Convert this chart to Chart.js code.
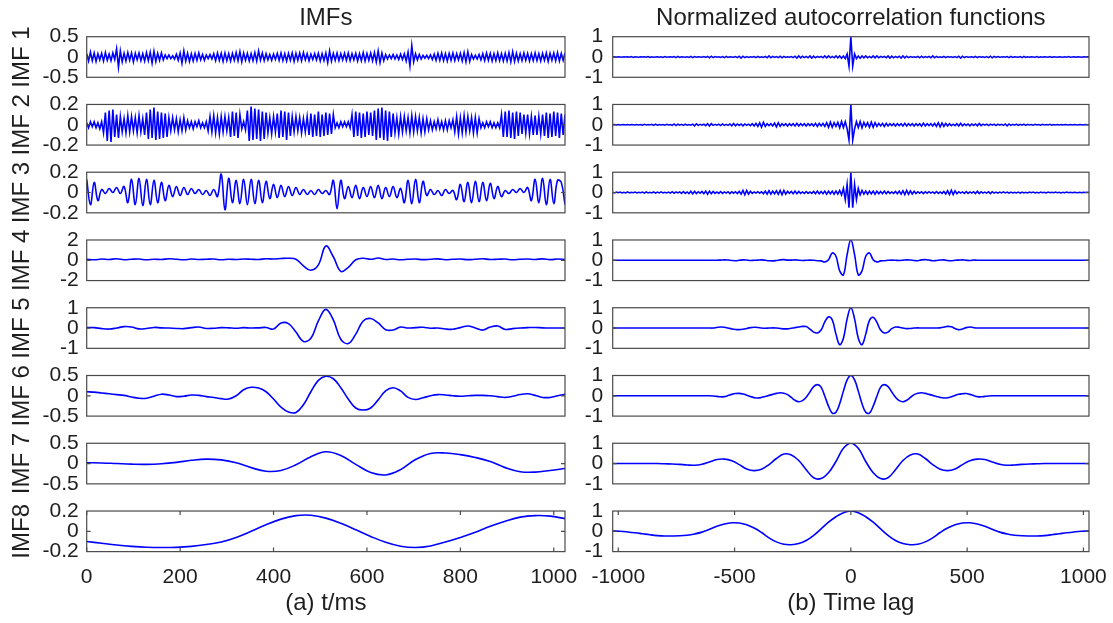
<!DOCTYPE html>
<html><head><meta charset="utf-8">
<script src="https://cdn.jsdelivr.net/npm/chart.js@4/dist/chart.umd.min.js"></script>
<style>
html,body{margin:0;padding:0;background:#fff;}
#wrap{position:relative;width:1113px;height:623px;overflow:hidden;background:#fff;}
#wrap canvas{position:absolute;}
</style>
</head><body><div id="wrap"></div>
<script>
// ---------- data ----------
const leftXTicks = [0, 200, 400, 600, 800, 1000];
const rightXTicks = [-1000, -500, 0, 500, 1000];
const tRange = [0, 1024];
const lagRange = [-1024, 1024];
const imfLabels = ['IMF 1', 'IMF 2', 'IMF 3', 'IMF 4', 'IMF 5', 'IMF 6', 'IMF 7', 'IMF8'];
const imfYLimits = [0.5, 0.2, 0.2, 2, 1, 0.5, 0.5, 0.2];
const acfYLimits = [1, 1, 1, 1, 1, 1, 1, 1];
const columnTitles = ['IMFs', 'Normalized autocorrelation functions'];
const axisTitles = ['(a) t/ms', '(b) Time lag'];

const imf1 = [
.08,-.1,.12,-.09,.1,-.11,.08,-.07,.09,-.1,.11,-.08,.07,-.09,.1,-.06,
.2,-.25,.15,-.12,.09,-.1,.11,-.08,.1,-.12,.09,-.07,.1,-.09,.08,-.1,
.11,-.09,.12,-.15,.14,-.11,.09,-.08,.1,-.07,.05,-.04,.05,-.04,.03,-.05,
.07,-.08,.1,-.15,.15,-.1,.09,-.11,.08,-.1,.09,-.08,.1,-.07,.06,-.08,
.05,-.04,.06,-.05,.08,-.09,.1,-.08,.09,-.11,.1,-.09,.08,-.1,.09,-.08,
.11,-.09,.13,-.12,.1,-.08,.09,-.1,.08,-.09,.11,-.1,.15,-.08,.1,-.09,
.08,-.07,.06,-.08,.07,-.06,.09,-.08,.1,-.09,.08,-.1,.09,-.08,.1,-.11,
.09,-.08,.1,-.09,.11,-.07,.08,-.09,.07,-.06,.08,-.07,.09,-.1,.08,-.09,
.1,-.14,.15,-.1,.09,-.08,.1,-.09,.08,-.07,.09,-.08,.1,-.09,.08,-.07,
.09,-.1,.08,-.09,.11,-.1,.09,-.08,.1,-.09,.11,-.12,.15,-.14,.1,-.09,
.06,-.05,.05,-.04,.06,-.05,.05,-.06,.07,-.06,.08,-.1,.12,-.22,.28,-.12,
.08,-.07,.06,-.05,.04,-.03,.04,-.04,.05,-.06,.07,-.08,.09,-.08,.1,-.09,
.08,-.1,.09,-.08,.1,-.09,.08,-.07,.09,-.1,.11,-.12,.13,-.11,.06,-.05,
.04,-.05,.06,-.07,.08,-.09,.1,-.08,.09,-.1,.08,-.09,.1,-.09,.08,-.1,
.09,-.1,.11,-.12,.13,-.11,.09,-.1,.08,-.09,.1,-.08,.09,-.1,.08,-.09,
.1,-.09,.08,-.1,.09,-.08,.1,-.11,.09,-.08,.1,-.09,.11,-.1,.09,-.08,
.1];

const imf2 = [
.02,-.03,.03,-.02,.03,-.03,.02,-.04,.03,-.08,.12,-.16,.14,-.17,.15,-.12,
.1,-.13,.08,-.07,.06,-.08,.09,-.07,.08,-.06,.07,-.08,.09,-.07,.06,-.1,
.12,-.14,.15,-.13,.17,-.15,.13,-.14,.12,-.13,.11,-.12,.07,-.06,.07,-.05,
.06,-.07,.05,-.06,.07,-.05,.04,-.03,.03,-.04,.03,-.02,.04,-.03,.02,-.03,
.03,-.06,.08,-.07,.09,-.08,.07,-.09,.08,-.07,.08,-.06,.07,-.12,.13,-.11,
.12,-.13,.1,-.04,.03,-.05,.14,-.16,.18,-.15,.16,-.14,.15,-.16,.13,-.14,
.12,-.08,.07,-.09,.08,-.07,.11,-.13,.14,-.12,.13,-.15,.12,-.11,.08,-.07,
.08,-.06,.07,-.08,.06,-.07,.08,-.1,.11,-.12,.1,-.11,.13,-.12,.1,-.11,
.12,-.1,.11,-.09,.1,-.03,.02,-.03,.03,-.02,.03,-.02,.03,-.03,.1,-.12,
.13,-.11,.12,-.13,.11,-.12,.13,-.1,.12,-.11,.14,-.15,.16,-.13,.17,-.15,
.14,-.16,.13,-.12,.11,-.08,.07,-.09,.08,-.07,.08,-.06,.07,-.08,.09,-.07,
.08,-.06,.07,-.08,.06,-.07,.06,-.05,.04,-.05,.03,-.04,.05,-.04,.03,-.05,
.04,-.05,.04,-.03,.05,-.07,.08,-.09,.07,-.08,.09,-.07,.08,-.06,.07,-.08,
.07,-.08,.06,-.03,.02,-.03,.03,-.02,.03,-.03,.02,-.03,.02,-.03,.1,-.12,
.13,-.12,.14,-.13,.12,-.14,.13,-.11,.12,-.09,.1,-.08,.1,-.09,.08,-.1,
.09,-.1,.08,-.09,.1,-.11,.12,-.13,.11,-.12,.13,-.11,.12,-.13,.11,-.1,
.1];

const imf3 = [
.13,-.12,.1,-.08,
.03,-.01,.04,0,.05,-.01,.06,
-.1,.13,-.12,.14,-.13,.13,-.12,.12,-.1,.1,-.08,
.07,-.04,.06,-.03,.05,-.02,.04,
-.01,.03,-.02,.02,-.03,.03,-.04,
.18,-.17,.14,-.1,.12,-.11,.13,-.12,.13,-.11,.12,-.1,.11,
-.06,.08,-.05,.07,-.04,.06,-.03,.05,
-.02,.03,-.02,.02,-.02,.03,-.01,.02,-.02,
.12,-.16,.12,-.06,
.06,-.05,.07,-.06,.05,-.04,.06,-.05,.07,-.06,.05,-.04,.06,-.05,.04,
-.1,.12,-.11,.13,-.1,.11,
-.03,.03,-.02,.02,-.03,.03,-.01,.02,
-.07,.08,-.09,.1,-.1,.11,-.09,.1,-.08,.09,-.06,.06,-.04,
.02,-.01,.03,0,.04,0,.05,
-.08,.13,-.1,.14,-.12,.13,-.11,.12,.1,-.12];

const imf4 = [
.1,.05,.12,.08,.15,.05,.1,.12,.05,.1,.08,.15,.1,.05,.12,.08,
.1,.12,.05,.1,.08,.12,.1,.08,.15,.12,.18,.2,.1,-.55,-.98,-.45,
1.4,.35,-1.1,-.7,.05,.2,.1,.22,.08,.12,.05,.1,.12,.06,.1,.14,
.05,.1,.12,.06,.1,.15,.08,.1,.12,.05,.1,.12,.08,.14,.06,.12,
.08];

const imf5 = [
.03,.02,-.03,-.05,0,.07,.05,-.04,-.02,.03,.01,0,-.02,-.03,.02,.05,
-.02,-.01,.02,.01,-.01,.02,0,.01,.03,-.05,.25,.22,-.2,-.66,-.5,.35,
.92,.4,-.55,-.76,-.3,.35,.47,.25,-.08,-.1,.05,0,.02,.04,-.01,0,
-.05,-.06,.02,.1,0,-.1,.05,.1,-.07,-.03,0,.02,.03,.01,0,0,
0];

const imf6 = [
.1,.09,.07,.05,.03,.01,-.03,-.06,-.06,-.01,.04,.02,-.02,-.01,.02,.01,
-.02,-.04,-.07,-.08,0,.15,.21,.19,.1,-.08,-.28,-.4,-.41,-.22,.1,.38,
.48,.42,.2,-.08,-.3,-.35,-.3,-.1,.12,.2,.12,-.04,-.09,-.05,0,.03,
.02,0,-.01,0,.01,.01,0,-.02,-.04,-.01,.03,.05,.01,-.04,-.04,0,
.04];

const imf7 = [
.02,.015,0,-.015,-.02,-.005,.03,.08,.11,.09,.02,-.1,-.19,-.17,-.03,.17,
.29,.2,-.02,-.22,-.28,-.15,.1,.25,.26,.22,.15,.05,-.1,-.2,-.21,-.17,
-.12];

const imf8 = [
-.1,-.118,-.135,-.148,-.157,-.16,-.158,-.148,-.13,-.105,-.06,0,.065,.12,.155,.158,
.13,.08,.015,-.05,-.108,-.147,-.16,-.145,-.105,-.06,-.01,.05,.1,.14,.155,.15,
.125];

const acf1 = [
0,.01,-.01,.01,0,-.01,.01,0,.01,-.01,.02,-.02,.01,0,-.01,.01,
0,.01,-.01,.02,-.02,.01,-.01,0,.01,-.01,.01,-.02,.02,-.01,0,.01,
-.01,.02,-.03,.03,-.02,.01,0,-.01,.01,-.02,.03,-.03,.02,-.01,.01,0,
-.01,.02,-.02,.03,-.04,.04,-.03,.02,-.01,.01,-.02,.02,-.03,.03,-.02,.01,
0,-.01,.02,-.03,.04,-.05,.04,-.03,.02,-.02,.01,-.01,.02,-.03,.03,-.02,
.01,-.02,.03,-.04,.05,-.04,.03,-.02,.02,-.03,.04,-.04,.03,-.02,.01,-.01,
.02,-.03,.04,-.05,.05,-.04,.04,-.03,.03,-.04,.05,-.05,.04,-.04,.03,-.02,
.03,-.04,.05,-.04,.05,-.04,.03,-.04,.05,-.04,.05,-.06,.05,-.08,.15,-.45,
1,
-.45,.15,-.08,.05,-.06,.05,-.04,.05,-.04,.03,-.04,.05,-.04,.05,-.04,.03,
-.02,.03,-.04,.05,-.05,.04,-.04,.03,-.03,.04,-.05,.05,-.04,.04,-.03,.02,
-.01,.01,-.02,.03,-.04,.04,-.03,.02,-.02,.03,-.04,.05,-.04,.03,-.02,.01,
-.02,.03,-.03,.02,-.01,.01,-.02,.02,-.03,.04,-.05,.04,-.03,.02,-.01,0,
.01,-.02,.03,-.03,.02,-.01,.01,-.02,.02,-.03,.04,-.04,.03,-.02,.02,-.01,
0,.01,-.01,.02,-.03,.03,-.02,.01,0,-.01,.02,-.03,.03,-.02,.01,-.01,
.01,0,-.01,.02,-.02,.01,-.01,.01,0,-.01,.02,-.02,.01,0,-.01,.01,
0,-.01,.01,-.01,.02,-.01,0,.01,-.01,.01,0,-.01,.01,0,.01,0];

const acf2 = [
0,.01,-.01,.01,-.01,0,.01,-.01,.01,-.01,.01,0,-.01,.01,-.01,.01,
-.02,.02,-.01,.01,-.01,.02,-.03,.03,-.02,.01,-.01,.01,-.02,.02,-.01,.01,
-.03,.04,-.04,.03,-.02,.02,-.03,.03,-.02,.01,-.02,.03,-.05,.05,-.03,.02,
-.02,.03,-.04,.05,-.06,.05,-.03,.02,-.02,.03,-.04,.04,-.03,.02,-.03,.04,
-.05,.06,-.05,.04,-.03,.04,-.05,.04,-.03,.03,-.04,.05,-.06,.07,-.08,.09,
-.12,.12,-.08,.05,-.04,.05,-.06,.08,-.1,.1,-.07,.05,-.04,.05,-.06,.05,
-.04,.05,-.06,.07,-.06,.05,-.04,.05,-.06,.05,-.04,.05,-.06,.07,-.08,.07,
-.06,.07,-.08,.1,-.12,.13,-.12,.1,-.08,.12,-.15,.16,-.14,.15,-.2,-.75,
1,
-.75,-.2,.15,-.14,.16,-.15,.12,-.08,.1,-.12,.13,-.12,.1,-.08,.07,-.06,
.07,-.08,.07,-.06,.05,-.04,.05,-.06,.05,-.04,.05,-.06,.07,-.06,.05,-.04,
.05,-.06,.05,-.04,.05,-.07,.08,-.06,.05,-.04,.05,-.06,.07,-.08,.1,-.1,
.09,-.08,.07,-.06,.05,-.04,.03,-.04,.05,-.06,.07,-.05,.04,-.03,.04,-.05,
.04,-.03,.04,-.05,.06,-.04,.03,-.02,.03,-.04,.03,-.02,.03,-.04,.03,-.02,
.02,-.03,.04,-.05,.04,-.03,.02,-.02,.03,-.03,.02,-.02,.03,-.03,.02,-.01,
.01,-.02,.02,-.01,.01,-.02,.02,-.01,.01,-.01,.02,-.02,.01,-.01,.01,-.01,
.01,-.01,.01,0,-.01,.01,-.01,.01,0,-.01,.01,0,-.01,.01,0,0];

const acf3 = [
.01,-.02,.02,-.01,.02,-.02,.01,-.02,.03,-.02,.01,-.01,.02,-.02,.01,-.01,
.02,-.03,.03,-.02,.01,-.02,.03,-.03,.02,-.02,.03,-.02,.01,-.02,.02,-.03,
.04,-.04,.03,-.02,.03,-.04,.05,-.04,.03,-.05,.06,-.07,.06,-.05,.04,-.03,
.05,-.06,.07,-.08,.07,-.06,.05,-.04,.03,-.04,.05,-.04,.03,-.03,.04,-.05,
.04,-.03,.04,-.05,.06,-.08,.1,-.11,.1,-.08,.06,-.04,.03,-.03,.04,-.03,
.04,-.06,.07,-.08,.09,-.08,.07,-.06,.08,-.09,.1,-.11,.1,-.08,.06,-.04,
.05,-.06,.07,-.06,.05,-.04,.03,-.04,.05,-.04,.03,-.04,.05,-.06,.07,-.06,
.05,-.06,.07,-.08,.07,-.06,.07,-.08,.07,-.08,.1,-.12,.2,-.35,.4,-.75,
1,
-.75,.4,-.35,.2,-.12,.1,-.08,.07,-.08,.07,-.06,.07,-.08,.07,-.06,.05,
-.06,.07,-.06,.05,-.04,.03,-.04,.05,-.06,.07,-.08,.09,-.1,.1,-.09,.08,
-.07,.06,-.05,.04,-.03,.04,-.05,.04,-.03,.04,-.03,.03,-.04,.05,-.04,.03,
-.04,.05,-.07,.09,-.1,.11,-.1,.08,-.06,.04,-.03,.03,-.04,.05,-.04,.03,
-.03,.04,-.05,.06,-.05,.04,-.03,.02,-.03,.04,-.05,.04,-.03,.02,-.03,.02,
-.02,.03,-.02,.02,-.03,.02,-.02,.01,-.02,.02,-.03,.02,-.02,.01,-.02,.02,
-.01,.02,-.02,.01,-.02,.02,-.01,.01,-.02,.02,-.01,.01,-.01,.02,-.01,.01,
-.02,.01,-.01,.02,-.01,.01,-.01,.01,0,-.01,.01,-.01,.01,0,.01,0];

const acf4 = [
0,0,0,0,0,0,0,0,0,0,0,0,0,0,0,0,
0,0,0,0,0,0,0,0,0,0,0,0,0,.01,.02,.01,
-.01,-.02,0,.02,.01,-.01,0,.01,.02,0,-.02,-.03,-.01,.02,.03,.01,
.01,.02,0,-.01,0,.01,0,-.02,-.03,-.08,.03,.36,.2,-.52,-.72,.28,
1,
.28,-.72,-.52,.2,.36,.03,-.08,-.03,-.02,0,.01,0,-.01,0,.02,.01,
-.01,-.02,.02,.03,.01,-.02,-.01,.01,.02,-.01,-.02,0,.01,.02,0,-.01,
.01,0,0,0,0,0,0,0,0,0,0,0,0,0,0,0,
0,0,0,0,0,0,0,0,0,0,0,0,0,0,0,0];

const acf5 = [
0,0,0,0,0,0,0,0,0,0,0,0,0,0,0,0,
0,0,0,0,0,0,0,0,0,0,0,0,.03,.05,.04,0,
-.04,-.07,-.08,-.06,-.02,.02,.04,.03,0,-.01,0,.01,0,-.02,-.04,-.04,
-.01,.02,.05,.08,.07,-.05,-.2,-.24,-.1,.3,.55,.4,-.3,-.82,-.5,.45,
1,
.45,-.5,-.82,-.3,.38,.53,.28,-.1,-.24,-.2,-.03,.05,.04,0,-.03,-.02,
0,.01,0,0,0,0,0,.01,.04,.08,.06,-.02,-.08,-.05,.02,.05,
.02,0,0,0,0,0,0,0,0,0,0,0,0,0,0,0,
0,0,0,0,0,0,0,0,0,0,0,0,0,0,0,0];

const acf6 = [
0,0,0,0,0,0,0,0,0,0,0,0,0,0,0,0,
0,0,0,0,0,0,0,0,0,0,0,-.01,-.03,-.05,-.04,.01,
.07,.11,.12,.09,.03,-.04,-.09,-.11,-.08,-.03,.02,.07,.12,.15,.13,.06,
-.08,-.22,-.29,-.24,-.07,.19,.45,.55,.43,-.02,-.51,-.85,-.81,-.39,.23,.78,
1,
.78,.23,-.39,-.81,-.85,-.51,-.02,.43,.55,.45,.19,-.07,-.24,-.29,-.22,-.08,
.06,.13,.15,.12,.07,.02,-.03,-.08,-.11,-.1,-.05,.02,.08,.1,.11,.07,
.01,-.04,-.05,-.03,-.01,0,0,0,0,0,0,0,0,0,0,0,
0,0,0,0,0,0,0,0,0,0,0,0,0,0,0,0];

const acf7 = [
0,0,0,0,0,0,0,-.01,-.02,-.04,-.07,-.08,-.03,.08,.2,.22,
.14,-.05,-.27,-.35,-.28,-.05,.25,.47,.42,.15,-.3,-.7,-.74,-.45,.1,.75,
1,
.75,.1,-.45,-.74,-.7,-.3,.15,.42,.47,.25,-.05,-.28,-.35,-.27,-.05,.14,
.22,.2,.08,-.03,-.08,-.07,-.04,-.02,-.01,0,0,0,0,0,0,0];

const acf8 = [
.01,0,-.03,-.07,-.12,-.17,-.21,-.23,-.23,-.22,-.19,-.13,-.04,.1,.25,.36,
.42,.41,.32,.16,-.06,-.32,-.52,-.64,-.66,-.6,-.45,-.2,.12,.45,.72,.92,
1,
.92,.72,.45,.12,-.2,-.45,-.6,-.66,-.64,-.52,-.32,-.06,.16,.32,.41,.42,
.36,.25,.1,-.04,-.13,-.19,-.22,-.23,-.23,-.21,-.17,-.12,-.07,-.03,0,.01];

const imfSeries = [imf1, imf2, imf3, imf4, imf5, imf6, imf7, imf8];
const acfSeries = [acf1, acf2, acf3, acf4, acf5, acf6, acf7, acf8];

// ---------- layout & style ----------
Chart.defaults.font.family = '"Liberation Sans", Arial, Helvetica, sans-serif';
Chart.defaults.color = '#1e1e1e';
const FONT_FAMILY = Chart.defaults.font.family;
const TICK_SIZE = 21, LABEL_SIZE = 24, TITLE_SIZE = 24;
const ROW_TOP0 = 36.7, ROW_PITCH = 67.76, BOX_H = 40.6, CANVAS_H = 623;
const LINE_COLOR = '#0000ff', BOX_COLOR = '#4a4a4a';
const smoothIMF = [0, 0, 0.4, 0.4, 0.4, 0.4, 0.4, 0.4];
const smoothACF = [0, 0, 0, 0.4, 0.4, 0.4, 0.4, 0.4];

const COLS = [
  {canvasLeft: 0, canvasWidth: 590, plotLeft: 86.7, plotRight: 565, range: tRange, xTicks: leftXTicks, tickGap: 8},
  {canvasLeft: 560, canvasWidth: 553, plotLeft: 612.7, plotRight: 1089, range: lagRange, xTicks: rightXTicks, tickGap: 9.4}
];

const wrap = document.getElementById('wrap');

function framePlugin(rowLabel) {
  return {
    id: 'frame',
    afterDraw(chart) {
      const {ctx, chartArea: a} = chart;
      const xs = chart.scales.x, ys = chart.scales.y;
      ctx.save();
      ctx.strokeStyle = BOX_COLOR;
      ctx.lineWidth = 1.2;
      ctx.strokeRect(a.left, a.top, a.right - a.left, a.bottom - a.top);
      ctx.beginPath();
      const L = 4;
      ys.ticks.forEach(t => {
        const p = ys.getPixelForValue(t.value);
        if (p > a.top + 2 && p < a.bottom - 2) {
          ctx.moveTo(a.left, p); ctx.lineTo(a.left + L, p);
          ctx.moveTo(a.right, p); ctx.lineTo(a.right - L, p);
        }
      });
      if (xs.options.display) {
        xs.ticks.forEach(t => {
          const p = xs.getPixelForValue(t.value);
          ctx.moveTo(p, a.bottom); ctx.lineTo(p, a.bottom - L);
          ctx.moveTo(p, a.top); ctx.lineTo(p, a.top + L);
        });
      }
      ctx.stroke();
      if (rowLabel) {
        ctx.fillStyle = '#1e1e1e';
        ctx.font = LABEL_SIZE + 'px ' + FONT_FAMILY;
        ctx.translate(22.8, (a.top + a.bottom) / 2);
        ctx.rotate(-Math.PI / 2);
        ctx.textAlign = 'center';
        ctx.textBaseline = 'middle';
        ctx.fillText(rowLabel, 0, 0);
      }
      ctx.restore();
    }
  };
}

function makePanel(colIdx, row, values, yLim, tension, rowLabel) {
  const c = COLS[colIdx];
  const boxTop = ROW_TOP0 + ROW_PITCH * row;
  const boxBottom = boxTop + BOX_H;
  const isTop = row === 0, isBottom = row === 7;
  const canvasTop = isTop ? 0 : Math.floor(boxTop - 16);
  const canvasBottom = isBottom ? CANVAS_H : Math.ceil(boxBottom + 16);
  const h = canvasBottom - canvasTop;
  const cv = document.createElement('canvas');
  cv.width = c.canvasWidth; cv.height = h;
  cv.style.left = c.canvasLeft + 'px'; cv.style.top = canvasTop + 'px';
  cv.style.width = c.canvasWidth + 'px'; cv.style.height = h + 'px';
  wrap.appendChild(cv);

  const [x0, x1] = c.range;
  const n = values.length;
  const pts = values.map((v, i) => ({x: x0 + i * (x1 - x0) / (n - 1), y: v}));
  const titleLH = TITLE_SIZE * 1.2;

  const xScale = {
    type: 'linear', min: x0, max: x1, display: isBottom,
    afterBuildTicks: s => { s.ticks = c.xTicks.map(v => ({value: v})); },
    ticks: {font: {size: TICK_SIZE}, padding: 0, autoSkip: false, maxRotation: 0, minRotation: 0, callback: v => String(v)},
    grid: {display: false, drawTicks: true, tickLength: 12.8},
    border: {display: false},
    title: {display: true, text: axisTitles[colIdx], font: {size: LABEL_SIZE}, padding: {top: 0, bottom: 5.6}}
  };
  if (isBottom) xScale.afterFit = s => { s.height = canvasBottom - boxBottom; };

  new Chart(cv, {
    type: 'line',
    data: {datasets: [{data: pts, borderColor: LINE_COLOR, borderWidth: 1.6, pointRadius: 0, tension: tension, fill: false}]},
    options: {
      responsive: false, animation: false, events: [], devicePixelRatio: 1,
      layout: {padding: {
        left: 0,
        right: c.canvasWidth - (c.plotRight - c.canvasLeft),
        top: isTop ? 0 : boxTop - canvasTop,
        bottom: isBottom ? 0 : canvasBottom - boxBottom
      }},
      plugins: {
        legend: {display: false}, tooltip: {enabled: false},
        title: {
          display: isTop, text: columnTitles[colIdx], fullSize: false,
          font: {size: TITLE_SIZE, weight: 'normal'}, color: '#1e1e1e',
          padding: {top: 18 - titleLH / 2, bottom: boxTop - (18 - titleLH / 2) - titleLH}
        }
      },
      scales: {
        x: xScale,
        y: {
          type: 'linear', min: -yLim, max: yLim,
          afterBuildTicks: s => { s.ticks = [-yLim, 0, yLim].map(v => ({value: v})); },
          afterFit: s => { s.width = c.plotLeft - c.canvasLeft; },
          ticks: {font: {size: TICK_SIZE}, padding: 0, autoSkip: false, callback: v => String(v)},
          grid: {display: false, drawTicks: true, tickLength: c.tickGap},
          border: {display: false}
        }
      }
    },
    plugins: [framePlugin(rowLabel)]
  });
}

for (let r = 0; r < 8; r++) {
  makePanel(0, r, imfSeries[r], imfYLimits[r], smoothIMF[r], imfLabels[r]);
  makePanel(1, r, acfSeries[r], acfYLimits[r], smoothACF[r], null);
}
</script></body></html>
